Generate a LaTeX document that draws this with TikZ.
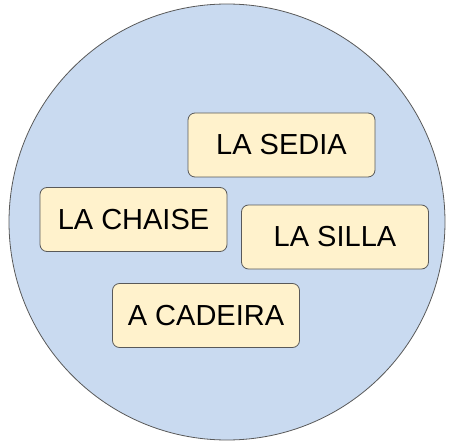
\documentclass[tikz,border=0pt]{standalone}
\usepackage{fontspec}
\setmainfont{Liberation Sans}
\definecolor{setblue}{HTML}{C9DAF0}
\definecolor{wordfill}{HTML}{FFF2CC}
\definecolor{edgegray}{HTML}{595959}

\tikzset{
    word/.style={draw=edgegray, fill=wordfill, rounded corners=7pt, line width=0.8pt,
        minimum width=187pt, minimum height=64pt, inner sep=0pt, font=\fontsize{29}{31}\selectfont}
}

\begin{document}
\begin{tikzpicture}[x=1pt, y=-1pt]
    \useasboundingbox (0,0) rectangle (450,441);
    % the set holding the words
    \node[circle, draw=edgegray, fill=setblue, line width=0.8pt, minimum size=436pt, inner sep=0pt] (set) at (227,222) {};
    % words
    \node[word] (sedia) at (281.5,145) {LA SEDIA};
    \node[word] (chaise) at (133.5,219.5) {LA CHAISE};
    \node[word] (silla) at (335,237) {LA SILLA};
    \node[word] (cadeira) at (206,315.5) {A CADEIRA};
\end{tikzpicture}
\end{document}
